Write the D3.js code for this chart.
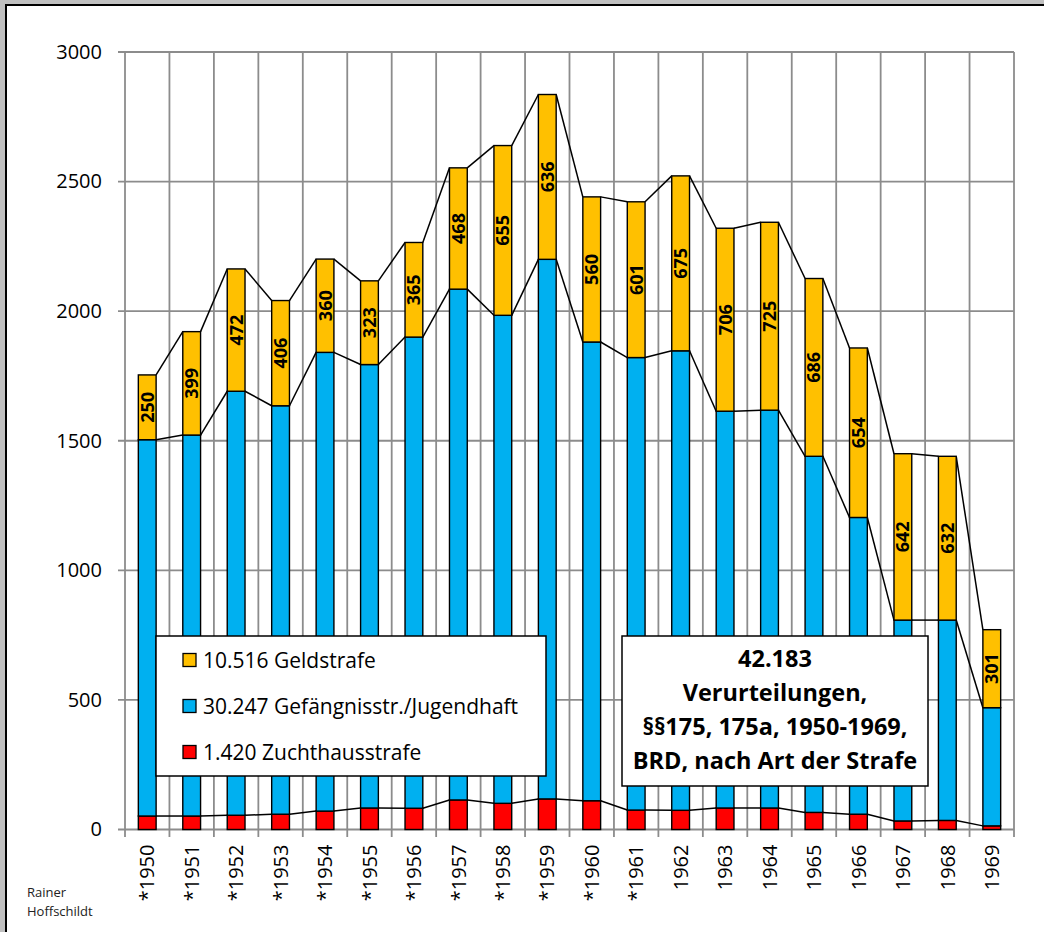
<!DOCTYPE html>
<html>
<head>
<meta charset="utf-8">
<script src="https://cdn.jsdelivr.net/npm/d3@7"></script>
<style>
  html, body { margin: 0; padding: 0; background: #c0c0c0; }
  svg { display: block; }
</style>
</head>
<body>
<svg id="chart" width="1044" height="932"></svg>
<script>
// ---- data ----
const years = ["*1950","*1951","*1952","*1953","*1954","*1955","*1956","*1957","*1958","*1959","*1960","*1961","1962","1963","1964","1965","1966","1967","1968","1969"];
const zuchthaus = [52,52,55,59,71,83,82,114,101,118,111,75,74,83,83,66,59,33,35,14];
const gefaengnis = [1452,1470,1636,1576,1770,1711,1818,1971,1883,2082,1770,1746,1773,1531,1535,1374,1145,775,773,456];
const geld = [250,399,472,406,360,323,365,468,655,636,560,601,675,706,725,686,654,642,632,301];
const yTicks = [0,500,1000,1500,2000,2500,3000];
const seriesNames = ["Zuchthausstrafe","Gefängnisstr./Jugendhaft","Geldstrafe"];
const legendLabels = ["10.516 Geldstrafe","30.247 Gefängnisstr./Jugendhaft","1.420 Zuchthausstrafe"];
const titleLines = ["42.183","Verurteilungen,","§§175, 175a, 1950-1969,","BRD, nach Art der Strafe"];
const credit = ["Rainer","Hoffschildt"];

const colors = {"Zuchthausstrafe":"#FF0000","Gefängnisstr./Jugendhaft":"#00B0F0","Geldstrafe":"#FFC000"};
const legendColors = ["#FFC000","#00B0F0","#FF0000"];
const FONT = "'Open Sans', 'Noto Sans', sans-serif";
const GRID = "#8c8c8c";

(function draw() {
const svg = d3.select("#chart");

// frame
svg.append("rect").attr("x",6).attr("y",5).attr("width",1100).attr("height",1000)
  .attr("fill","#fff").attr("stroke","#000").attr("stroke-width",2);

const pLeft = 125, pRight = 1014, pTop = 52, pBottom = 829.5;

const x = d3.scaleBand().domain(years).range([pLeft, pRight]).paddingInner(0.6).paddingOuter(0.3);
const y = d3.scaleLinear().domain([0, 3000]).range([pBottom, pTop]);

const step = x.step();
const boundaries = d3.range(years.length + 1).map(i => pLeft + i * step);

// horizontal gridlines
svg.append("g").selectAll("line").data(yTicks).join("line")
  .attr("x1", pLeft - 7).attr("x2", pRight)
  .attr("y1", d => y(d)).attr("y2", d => y(d))
  .attr("stroke", GRID).attr("stroke-width", 1.8);

// vertical gridlines (with tick extension below the axis)
svg.append("g").selectAll("line").data(boundaries).join("line")
  .attr("x1", d => d).attr("x2", d => d)
  .attr("y1", y(3000)).attr("y2", pBottom + 7.5)
  .attr("stroke", GRID).attr("stroke-width", 1.8);

// y axis labels
const yAxis = svg.append("g").attr("transform", `translate(${pLeft},0)`)
  .call(d3.axisLeft(y).tickValues(yTicks).tickSize(0).tickPadding(23).tickFormat(d3.format("d")));
yAxis.select(".domain").remove();
yAxis.selectAll("text").attr("font-family", FONT).attr("font-size", 20).attr("fill", "#000");

// x axis labels
const xAxis = svg.append("g").attr("transform", `translate(0,${pBottom})`)
  .call(d3.axisBottom(x).tickSize(0).tickPadding(0));
xAxis.select(".domain").remove();
xAxis.selectAll("text")
  .attr("font-family", FONT).attr("font-size", 20).attr("fill", "#000")
  .attr("text-anchor", "end")
  .attr("transform", "translate(0,15) rotate(-90)")
  .attr("x", 0).attr("y", 0).attr("dy", "0.36em");

// stacked data
const rows = years.map((yr, i) => ({year: yr, "Zuchthausstrafe": zuchthaus[i], "Gefängnisstr./Jugendhaft": gefaengnis[i], "Geldstrafe": geld[i]}));
const stack = d3.stack().keys(seriesNames)(rows);

// series lines (connect bar tops)
stack.forEach(layer => {
  const g = svg.append("g");
  for (let i = 0; i < layer.length - 1; i++) {
    g.append("line")
      .attr("x1", x(years[i]) + x.bandwidth()).attr("y1", y(layer[i][1]))
      .attr("x2", x(years[i + 1])).attr("y2", y(layer[i + 1][1]))
      .attr("stroke", "#000").attr("stroke-width", 1.5);
  }
});

// bars
stack.forEach(layer => {
  svg.append("g").selectAll("rect").data(layer).join("rect")
    .attr("x", d => x(d.data.year))
    .attr("width", x.bandwidth())
    .attr("y", d => y(d[1]))
    .attr("height", d => y(d[0]) - y(d[1]))
    .attr("fill", colors[layer.key])
    .attr("stroke", "#000").attr("stroke-width", 1.4);
});

// value labels for Geldstrafe
const geldLayer = stack[2];
svg.append("g").selectAll("text").data(geldLayer).join("text")
  .attr("transform", d => `translate(${x(d.data.year) + x.bandwidth() / 2},${(y(d[0]) + y(d[1])) / 2}) rotate(-90)`)
  .attr("text-anchor", "middle").attr("dy", "0.36em")
  .attr("font-family", FONT).attr("font-size", 18).attr("font-weight", "bold")
  .attr("fill", "#000")
  .text(d => d.data["Geldstrafe"]);

// legend
const lg = svg.append("g");
lg.append("rect").attr("x", 156).attr("y", 636).attr("width", 390).attr("height", 140)
  .attr("fill", "#fff").attr("stroke", "#000").attr("stroke-width", 1.5);
legendLabels.forEach((t, i) => {
  const cy = 660 + i * 46;
  lg.append("rect").attr("x", 183).attr("y", cy - 6.5).attr("width", 13).attr("height", 13)
    .attr("fill", legendColors[i]).attr("stroke", "#000").attr("stroke-width", 1.3);
  lg.append("text").attr("x", 203).attr("y", cy).attr("dy", "0.36em")
    .attr("font-family", FONT).attr("font-size", 21).attr("fill", "#000").text(t);
});

// title box
const tb = svg.append("g");
tb.append("rect").attr("x", 622).attr("y", 636).attr("width", 306).attr("height", 150)
  .attr("fill", "#fff").attr("stroke", "#000").attr("stroke-width", 1.5);
titleLines.forEach((t, i) => {
  tb.append("text").attr("x", 775).attr("y", 659 + i * 34).attr("dy", "0.36em")
    .attr("text-anchor", "middle")
    .attr("font-family", FONT).attr("font-size", 23.5).attr("font-weight", "bold")
    .attr("fill", "#000").text(t);
});

// credit
credit.forEach((t, i) => {
  svg.append("text").attr("x", 27).attr("y", 897 + i * 19)
    .attr("font-family", FONT).attr("font-size", 13).attr("fill", "#222").text(t);
});
})();
</script>
</body>
</html>
